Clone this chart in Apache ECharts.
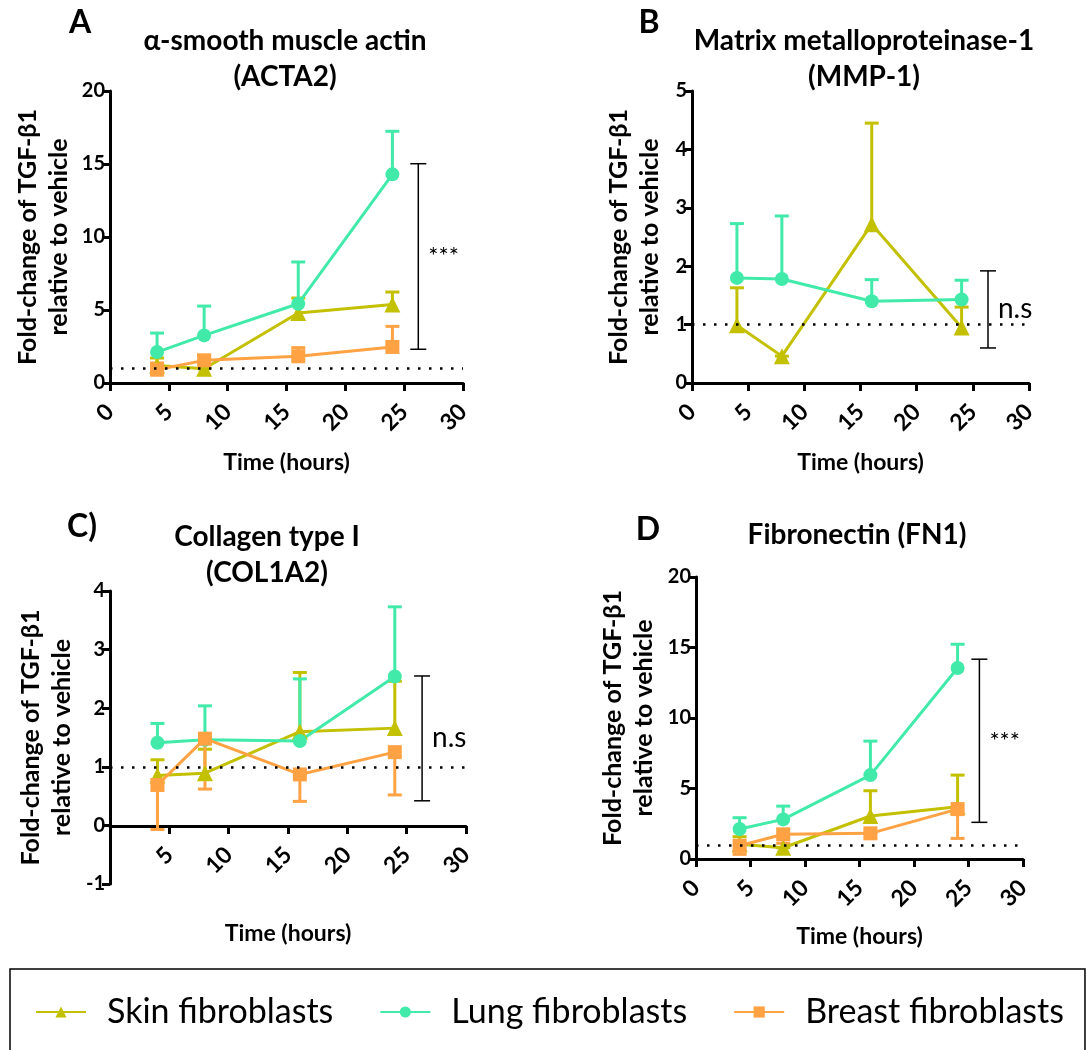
<!DOCTYPE html>
<html>
<head>
<meta charset="utf-8">
<script src="https://cdn.jsdelivr.net/npm/echarts@6/dist/echarts.min.js"></script>
<style>
  html, body { margin: 0; padding: 0; background: #fff; }
  #chart { width: 1086px; height: 1050px; }
</style>
</head>
<body>
<div id="chart"></div>
<script>
// time points (hours)
const times = [4, 8, 16, 24];
const refLine = 1;

// A: ACTA2
const skinA = [1.2, 0.98, 4.79, 5.37];
const skinAErr = [1.71, 0.98, 5.82, 6.23];
const lungA = [2.12, 3.26, 5.43, 14.29];
const lungAErr = [3.42, 5.27, 8.29, 17.24];
const breastA = [0.91, 1.55, 1.83, 2.47];
const breastAErr = [1.37, 1.9, 2.42, 3.88];

// B: MMP-1
const skinB = [0.99, 0.46, 2.72, 0.95];
const skinBErr = [1.63, 0.46, 4.45, 1.3];
const lungB = [1.8, 1.78, 1.4, 1.43];
const lungBErr = [2.73, 2.86, 1.77, 1.76];

// C: COL1A2
const skinC = [0.85, 0.89, 1.6, 1.66];
const skinCErr = [1.12, 1.3, 2.61, 2.46];
const lungC = [1.41, 1.46, 1.44, 2.54];
const lungCErr = [1.74, 2.04, 2.5, 3.73];
const breastC = [0.69, 1.48, 0.87, 1.25];
const breastCErr = [-0.07, 0.62, 0.41, 0.52];

// D: FN1
const skinD = [1.04, 0.8, 3.05, 3.71];
const skinDErr = [1.58, 0.8, 4.84, 5.95];
const lungD = [2.13, 2.81, 5.95, 13.55];
const lungDErr = [2.93, 3.75, 8.36, 15.23];
const breastD = [0.94, 1.75, 1.82, 3.54];
const breastDErr = [0.33, 1.11, 1.82, 1.46];

// significance brackets: [x, low, high]
const bracketA = [26.2, 2.31, 15.02];
const bracketB = [26.35, 0.6, 1.92];
const bracketC = [26.3, 0.42, 2.55];
const bracketD = [26.0, 2.6, 14.17];

const SKIN = '#c3c000', LUNG = '#42eaaa', BREAST = '#ffa244';
const FONT = 'Lato';
const yName = 'Fold-change of TGF-\u03b21\nrelative to vehicle';

const chart = echarts.init(document.getElementById('chart'));

const grids = [
  { left: 110, top: 91, width: 353, height: 292 },
  { left: 692, top: 91, width: 337, height: 292 },
  { left: 110, top: 591, width: 356, height: 293 },
  { left: 696, top: 577, width: 327, height: 282 },
  // upper part of C (0..4), carries the x axis sitting on y = 0
  { left: 110, top: 591, width: 356, height: 235 }
];

function xAxis(i, nameGap, hideZero) {
  return {
    type: 'value', gridIndex: i, min: 0, max: 30, interval: 5,
    name: 'Time (hours)', nameLocation: 'middle', nameGap: nameGap,
    nameTextStyle: { fontFamily: FONT, fontWeight: 'bold', fontSize: 23, color: '#000' },
    axisLine: { onZero: false, lineStyle: { color: '#000', width: 3 } },
    axisTick: { length: 8, lineStyle: { color: '#000', width: 3 } },
    axisLabel: {
      rotate: 45, margin: 25, fontFamily: FONT, fontWeight: 'bold', fontSize: 23, color: '#000',
      formatter: v => (hideZero && v === 0) ? '' : String(v)
    },
    splitLine: { show: false }
  };
}

function yAxis(i, min, max, interval, nameGap) {
  return {
    type: 'value', gridIndex: i, min, max, interval,
    name: yName, nameLocation: 'middle', nameGap: nameGap, nameRotate: 90,
    nameTextStyle: { fontFamily: FONT, fontWeight: 'bold', fontSize: 25, color: '#000', lineHeight: 31 },
    axisLine: { show: true, onZero: false, lineStyle: { color: '#000', width: 3 } },
    axisTick: { show: true, length: 8, lineStyle: { color: '#000', width: 3 } },
    axisLabel: { fontFamily: FONT, fontWeight: 'bold', fontSize: 20, color: '#000', margin: 5 },
    splitLine: { show: false }
  };
}

function lineSeries(name, g, vals, color, symbol, withRef) {
  const s = {
    type: 'line', name, xAxisIndex: g, yAxisIndex: g,
    data: times.map((t, i) => [t, vals[i]]),
    symbol, symbolSize: symbol === 'triangle' ? 16 : 14,
    lineStyle: { color, width: 3 }, itemStyle: { color },
    z: 4, animation: false
  };
  if (withRef) {
    s.markLine = {
      silent: true, symbol: 'none', label: { show: false }, animation: false,
      lineStyle: { color: '#000', width: 2.5, type: [2.5, 8.5] },
      data: [{ yAxis: refLine }]
    };
  }
  return s;
}

function errSeries(name, g, vals, ends, color) {
  return {
    type: 'custom', name: name + ' SD', xAxisIndex: g, yAxisIndex: g,
    data: times.map((t, i) => [t, vals[i], ends[i]]),
    encode: { x: 0, y: [1, 2] }, z: 3, silent: true, animation: false,
    renderItem: (params, api) => {
      const p0 = api.coord([api.value(0), api.value(1)]);
      const p1 = api.coord([api.value(0), api.value(2)]);
      return {
        type: 'group', children: [
          { type: 'line', shape: { x1: p0[0], y1: p0[1], x2: p1[0], y2: p1[1] }, style: { stroke: color, lineWidth: 3 } },
          { type: 'line', shape: { x1: p1[0] - 7, y1: p1[1], x2: p1[0] + 7, y2: p1[1] }, style: { stroke: color, lineWidth: 3 } }
        ]
      };
    }
  };
}

function bracketSeries(g, b, label, fontSize) {
  return {
    type: 'custom', name: 'bracket' + g, xAxisIndex: g, yAxisIndex: g,
    data: [b], encode: { x: 0, y: [1, 2] }, silent: true, animation: false, z: 5,
    renderItem: (params, api) => {
      const lo = api.coord([api.value(0), api.value(1)]);
      const hi = api.coord([api.value(0), api.value(2)]);
      const st = { stroke: '#000', lineWidth: 1.5 };
      return {
        type: 'group', children: [
          { type: 'line', shape: { x1: lo[0], y1: lo[1], x2: hi[0], y2: hi[1] }, style: st },
          { type: 'line', shape: { x1: lo[0] - 8, y1: lo[1], x2: lo[0] + 8, y2: lo[1] }, style: st },
          { type: 'line', shape: { x1: hi[0] - 8, y1: hi[1], x2: hi[0] + 8, y2: hi[1] }, style: st },
          { type: 'text', style: { text: label, x: lo[0] + 10, y: (lo[1] + hi[1]) / 2, align: 'left', verticalAlign: 'middle',
            fontFamily: FONT, fontSize, fill: '#000' } }
        ]
      };
    }
  };
}

function txt(text, x, y, size) {
  return { type: 'text', style: { text, x, y, align: 'center', verticalAlign: 'middle',
    fontFamily: FONT, fontWeight: 'bold', fontSize: size, fill: '#000' } };
}

const series = [
  // A
  errSeries('Skin fibroblasts', 0, skinA, skinAErr, SKIN),
  lineSeries('Skin fibroblasts', 0, skinA, SKIN, 'triangle', true),
  errSeries('Lung fibroblasts', 0, lungA, lungAErr, LUNG),
  lineSeries('Lung fibroblasts', 0, lungA, LUNG, 'circle'),
  errSeries('Breast fibroblasts', 0, breastA, breastAErr, BREAST),
  lineSeries('Breast fibroblasts', 0, breastA, BREAST, 'rect'),
  bracketSeries(0, bracketA, '***', 24),
  // B
  errSeries('Skin fibroblasts', 1, skinB, skinBErr, SKIN),
  lineSeries('Skin fibroblasts', 1, skinB, SKIN, 'triangle', true),
  errSeries('Lung fibroblasts', 1, lungB, lungBErr, LUNG),
  lineSeries('Lung fibroblasts', 1, lungB, LUNG, 'circle'),
  bracketSeries(1, bracketB, 'n.s', 28),
  // C
  errSeries('Skin fibroblasts', 2, skinC, skinCErr, SKIN),
  lineSeries('Skin fibroblasts', 2, skinC, SKIN, 'triangle', true),
  errSeries('Lung fibroblasts', 2, lungC, lungCErr, LUNG),
  lineSeries('Lung fibroblasts', 2, lungC, LUNG, 'circle'),
  errSeries('Breast fibroblasts', 2, breastC, breastCErr, BREAST),
  lineSeries('Breast fibroblasts', 2, breastC, BREAST, 'rect'),
  bracketSeries(2, bracketC, 'n.s', 28),
  // D
  errSeries('Skin fibroblasts', 3, skinD, skinDErr, SKIN),
  lineSeries('Skin fibroblasts', 3, skinD, SKIN, 'triangle', true),
  errSeries('Lung fibroblasts', 3, lungD, lungDErr, LUNG),
  lineSeries('Lung fibroblasts', 3, lungD, LUNG, 'circle'),
  errSeries('Breast fibroblasts', 3, breastD, breastDErr, BREAST),
  lineSeries('Breast fibroblasts', 3, breastD, BREAST, 'rect'),
  bracketSeries(3, bracketD, '***', 24)
];

const xC = xAxis(2, 0);
xC.show = false;

chart.setOption({
  animation: false,
  textStyle: { fontFamily: FONT },
  grid: grids,
  xAxis: [xAxis(0, 68), xAxis(1, 68), xC, xAxis(3, 66), xAxis(4, 96, true)],
  yAxis: [
    yAxis(0, 0, 20, 5, 36),
    yAxis(1, 0, 5, 1, 27),
    yAxis(2, -1, 4, 1, 33),
    yAxis(3, 0, 20, 5, 37),
    { type: 'value', gridIndex: 4, min: 0, max: 4, show: false }
  ],
  legend: {
    data: ['Skin fibroblasts', 'Lung fibroblasts', 'Breast fibroblasts'],
    left: 10, top: 969,
    padding: [26, 21, 26, 25],
    borderColor: '#000', borderWidth: 1.5,
    itemWidth: 50, itemHeight: 14, itemGap: 46,
    textStyle: { fontFamily: FONT, fontSize: 34, color: '#000', padding: [0, 0, 0, 16] }
  },
  graphic: [
    txt('A', 80, 23, 32),
    txt('\u03b1-smooth muscle actin', 285, 41, 28),
    txt('(ACTA2)', 285, 77, 28),
    txt('B', 649, 23, 32),
    txt('Matrix metalloproteinase-1', 864, 41, 28),
    txt('(MMP-1)', 864, 77, 28),
    txt('C)', 82, 527, 32),
    txt('Collagen type I', 267, 537, 28),
    txt('(COL1A2)', 267, 573, 28),
    txt('D', 648, 530, 32),
    txt('Fibronectin (FN1)', 857, 535, 28)
  ],
  series
});
</script>
</body>
</html>
